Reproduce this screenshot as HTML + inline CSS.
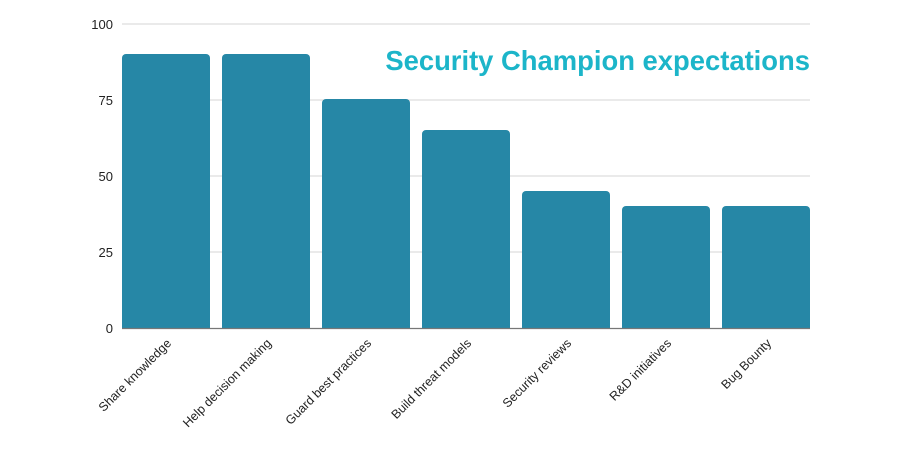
<!DOCTYPE html>
<html><head><meta charset="utf-8"><style>body{margin:0;background:#fff}svg{display:block}</style></head><body>
<svg width="900" height="450" xmlns="http://www.w3.org/2000/svg" font-family="Liberation Sans, sans-serif">
<g stroke="#dedede" stroke-width="1.3">
<line x1="122" x2="810" y1="24" y2="24"/><line x1="122" x2="810" y1="100" y2="100"/>
<line x1="122" x2="810" y1="176" y2="176"/><line x1="122" x2="810" y1="252" y2="252"/>
</g>
<g fill="#2687a6">
<rect x="122" y="54" width="88" height="280" rx="4"/>
<rect x="222" y="54" width="88" height="280" rx="4"/>
<rect x="322" y="99" width="88" height="235" rx="4"/>
<rect x="422" y="130" width="88" height="204" rx="4"/>
<rect x="522" y="191" width="88" height="143" rx="4"/>
<rect x="622" y="206" width="88" height="128" rx="4"/>
<rect x="722" y="206" width="88" height="128" rx="4"/>
</g>
<rect x="120" y="329" width="700" height="10" fill="#fff"/>
<line x1="122" x2="810" y1="328.5" y2="328.5" stroke="#777" stroke-width="1.3"/>
<g font-size="13" fill="#222" text-anchor="end">
<text x="113" y="29">100</text><text x="113" y="105">75</text><text x="113" y="181">50</text><text x="113" y="257">25</text><text x="113" y="333">0</text>
</g>
<text x="810" y="70" text-anchor="end" font-size="27.4" font-weight="bold" fill="#1cb5c9">Security Champion expectations</text>
<g font-size="12.5" fill="#222" text-anchor="end">
<text transform="translate(172,344) rotate(-45)">Share knowledge</text>
<text transform="translate(272,344) rotate(-45)">Help decision making</text>
<text transform="translate(372,344) rotate(-45)">Guard best practices</text>
<text transform="translate(472,344) rotate(-45)">Build threat models</text>
<text transform="translate(572,344) rotate(-45)">Security reviews</text>
<text transform="translate(672,344) rotate(-45)">R&amp;D initiatives</text>
<text transform="translate(772,344) rotate(-45)">Bug Bounty</text>
</g>
</svg>
</body></html>
